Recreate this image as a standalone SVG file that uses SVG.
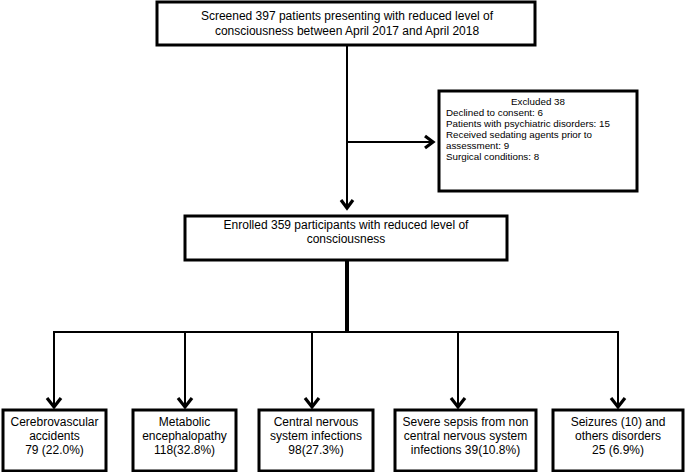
<svg xmlns="http://www.w3.org/2000/svg" width="685" height="472" viewBox="0 0 685 472">
<style>
.box{fill:#fff;stroke:#000;stroke-width:3}
.t{font-family:"Liberation Sans",Arial,sans-serif;font-size:12px;fill:#000;text-anchor:middle}
.s{font-family:"Liberation Sans",Arial,sans-serif;font-size:9.8px;fill:#000}
.ln{fill:none;stroke:#000;stroke-width:2}
.ah{fill:none;stroke:#000;stroke-width:3.2;stroke-linejoin:miter}
</style>
<rect width="685" height="472" fill="#fff"/>
<g id="connectors">
<line class="ln" x1="347" y1="45" x2="347" y2="208"/>
<polyline class="ah" points="341,200 347,208 353,200"/>
<line class="ln" x1="347" y1="142" x2="433" y2="142"/>
<polyline class="ah" points="425,136 433,142 425,148"/>
<line x1="347" y1="260" x2="347" y2="333" stroke="#000" stroke-width="4"/>
<line class="ln" x1="53" y1="332" x2="619" y2="332"/>
<line class="ln" x1="54" y1="332" x2="54" y2="407"/>
<polyline class="ah" points="47,398 54,407 61,398"/>
<line class="ln" x1="185" y1="332" x2="185" y2="407"/>
<polyline class="ah" points="178,398 185,407 192,398"/>
<line class="ln" x1="312" y1="332" x2="312" y2="407"/>
<polyline class="ah" points="305,398 312,407 319,398"/>
<line class="ln" x1="458" y1="332" x2="458" y2="407"/>
<polyline class="ah" points="451,398 458,407 465,398"/>
<line class="ln" x1="618" y1="332" x2="618" y2="407"/>
<polyline class="ah" points="611,398 618,407 625,398"/>
</g>
<g id="screened">
<rect class="box" x="157" y="2" width="378" height="43"/>
<text class="t" x="347" y="20">Screened 397 patients presenting with reduced level of</text>
<text class="t" x="347" y="35">consciousness between April 2017 and April 2018</text>
</g>
<g id="excluded">
<rect class="box" x="439" y="91" width="198" height="100"/>
<text class="s" x="538" y="105" text-anchor="middle">Excluded 38</text>
<text class="s" x="446" y="116">Declined to consent: 6</text>
<text class="s" x="446" y="127">Patients with psychiatric disorders: 15</text>
<text class="s" x="446" y="138">Received sedating agents prior to</text>
<text class="s" x="446" y="149">assessment: 9</text>
<text class="s" x="446" y="160">Surgical conditions: 8</text>
</g>
<g id="enrolled">
<rect class="box" x="185" y="216" width="322" height="44"/>
<text class="t" x="346" y="229">Enrolled 359 participants with reduced level of</text>
<text class="t" x="346" y="243">consciousness</text>
</g>
<g id="cva">
<rect class="box" x="3" y="410" width="103" height="61"/>
<text class="t" x="54.5" y="426">Cerebrovascular</text>
<text class="t" x="54.5" y="440">accidents</text>
<text class="t" x="54.5" y="454">79 (22.0%)</text>
</g>
<g id="metabolic">
<rect class="box" x="133" y="410" width="103" height="61"/>
<text class="t" x="184.5" y="426">Metabolic</text>
<text class="t" x="184.5" y="440">encephalopathy</text>
<text class="t" x="184.5" y="454">118(32.8%)</text>
</g>
<g id="cns">
<rect class="box" x="259" y="410" width="114" height="61"/>
<text class="t" x="316" y="426">Central nervous</text>
<text class="t" x="316" y="440">system infections</text>
<text class="t" x="316" y="454">98(27.3%)</text>
</g>
<g id="sepsis">
<rect class="box" x="395" y="410" width="141" height="61"/>
<text class="t" x="465.5" y="426">Severe sepsis from non</text>
<text class="t" x="465.5" y="440">central nervous system</text>
<text class="t" x="465.5" y="454">infections 39(10.8%)</text>
</g>
<g id="seizures">
<rect class="box" x="553" y="410" width="130" height="61"/>
<text class="t" x="618" y="426">Seizures (10) and</text>
<text class="t" x="618" y="440">others disorders</text>
<text class="t" x="618" y="454">25 (6.9%)</text>
</g>
</svg>
